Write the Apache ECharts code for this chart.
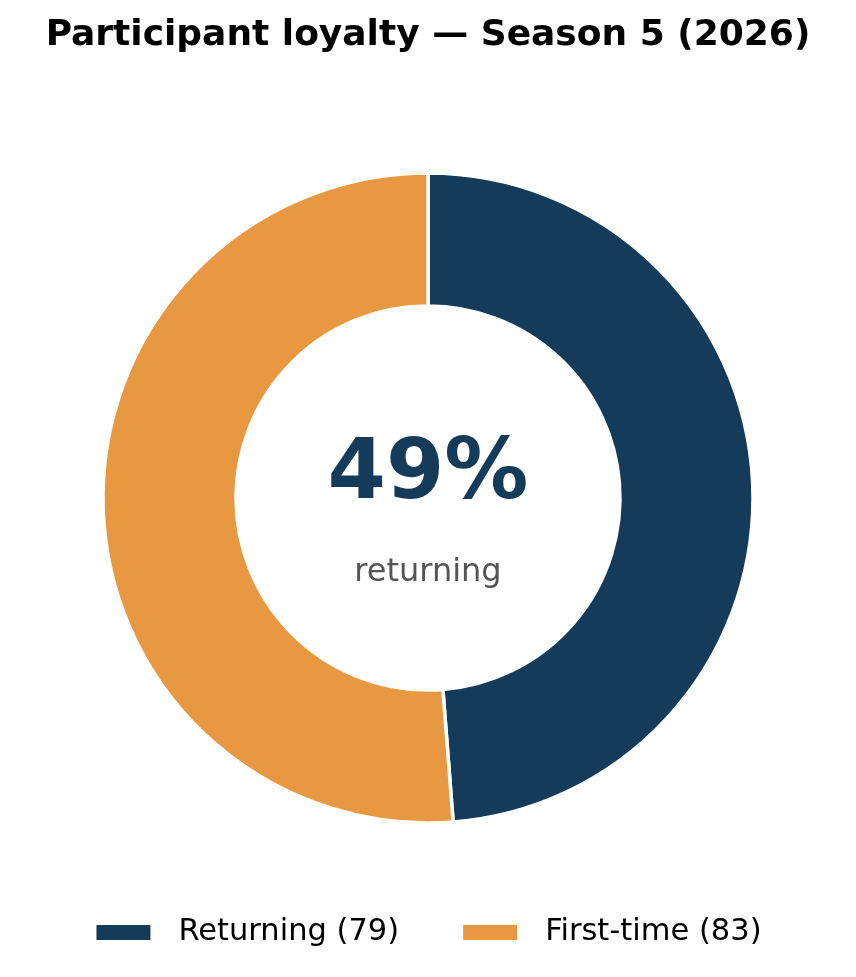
<!DOCTYPE html>
<html>
<head>
<meta charset="utf-8">
<style>
  html, body { margin: 0; padding: 0; background: #ffffff; }
  #chart { width: 856px; height: 977px; }
</style>
<script src="https://cdn.jsdelivr.net/npm/echarts@6/dist/echarts.min.js"></script>
</head>
<body>
<div id="chart"></div>
<script>
var titleText = 'Participant loyalty \u2014 Season 5 (2026)';
var categories = ['Returning', 'First-time'];
var counts = [79, 83];
var colors = ['#143b5a', '#e89840'];
var centerCaption = 'returning';

var total = counts.reduce(function (a, b) { return a + b; }, 0);
var pct = Math.round(counts[0] / total * 100);
var legendNames = categories.map(function (c, i) { return c + ' (' + counts[i] + ')'; });

var chart = echarts.init(document.getElementById('chart'), null, { renderer: 'canvas' });
chart.setOption({
  backgroundColor: '#ffffff',
  animation: false,
  title: {
    text: titleText,
    left: 'center',
    top: 13,
    textStyle: { fontFamily: 'DejaVu Sans', fontWeight: 'bold', fontSize: 36, color: '#000000' }
  },
  legend: {
    data: legendNames,
    top: 912,
    left: 'center',
    itemWidth: 56,
    itemHeight: 17,
    itemGap: 62,
    icon: 'rect',
    textStyle: { fontFamily: 'DejaVu Sans', fontSize: 30.5, color: '#000000', padding: [0, 0, 0, 22] }
  },
  graphic: [
    {
      type: 'text',
      left: 'center',
      top: 434,
      style: { text: pct + '%', fontFamily: 'DejaVu Sans', fontWeight: 'bold', fontSize: 84, fill: '#143b5a' }
    },
    {
      type: 'text',
      left: 'center',
      top: 557,
      style: { text: centerCaption, fontFamily: 'DejaVu Sans', fontSize: 32, fill: '#555555' }
    }
  ],
  series: [{
    type: 'pie',
    center: [428, 498],
    radius: [192, 325],
    startAngle: 90,
    clockwise: true,
    label: { show: false },
    labelLine: { show: false },
    emphasis: { disabled: true },
    itemStyle: { borderColor: '#ffffff', borderWidth: 3.5 },
    data: legendNames.map(function (n, i) {
      return { name: n, value: counts[i], itemStyle: { color: colors[i] } };
    })
  }]
});
</script>
</body>
</html>
